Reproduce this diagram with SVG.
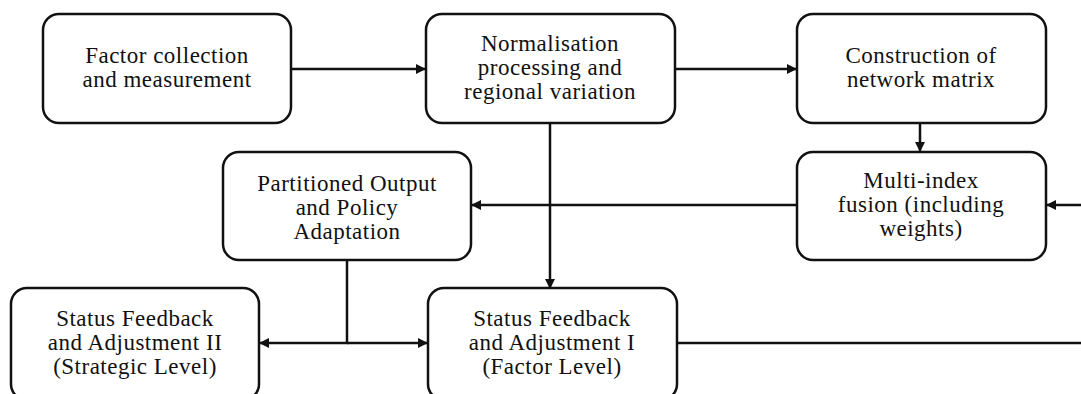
<svg xmlns="http://www.w3.org/2000/svg" width="1081" height="394" viewBox="0 0 1081 394">
<style>
.box{fill:#fff;stroke:#111;stroke-width:2.5}
.t{font-family:"Liberation Serif","Times New Roman",serif;font-size:23px;letter-spacing:0.5px;fill:#111;text-anchor:middle}
.c{fill:none;stroke:#111;stroke-width:2.5}
</style>
<defs>
<marker id="ah" viewBox="0 0 10 10" refX="10" refY="5" markerWidth="4.4" markerHeight="4" markerUnits="strokeWidth" orient="auto">
<path d="M0,0 L10,5 L0,10 z" fill="#111"/>
</marker>
</defs>
<rect width="1081" height="394" fill="#fff"/>
<g id="connectors">
<line class="c" x1="291" y1="69" x2="426" y2="69" marker-end="url(#ah)"/>
<line class="c" x1="675" y1="69" x2="797" y2="69" marker-end="url(#ah)"/>
<line class="c" x1="920" y1="123" x2="920" y2="152" marker-end="url(#ah)"/>
<line class="c" x1="1081" y1="205" x2="1046" y2="205" marker-end="url(#ah)"/>
<line class="c" x1="797" y1="205" x2="471" y2="205" marker-end="url(#ah)"/>
<line class="c" x1="550" y1="123" x2="550" y2="289" marker-end="url(#ah)"/>
<polyline class="c" points="347,260 347,343 259,343" marker-end="url(#ah)"/>
<line class="c" x1="347" y1="343" x2="428" y2="343" marker-end="url(#ah)"/>
<line class="c" x1="677" y1="343" x2="1081" y2="343"/>
</g>
<g id="n1">
<rect class="box" x="43" y="14" width="248" height="109" rx="16"/>
<text class="t" x="167" y="63">Factor collection</text>
<text class="t" x="167" y="87">and measurement</text>
</g>
<g id="n2">
<rect class="box" x="426" y="14" width="249" height="109" rx="16"/>
<text class="t" x="550" y="51">Normalisation</text>
<text class="t" x="550" y="75">processing and</text>
<text class="t" x="550" y="99">regional variation</text>
</g>
<g id="n3">
<rect class="box" x="797" y="14" width="249" height="109" rx="16"/>
<text class="t" x="921" y="63">Construction of</text>
<text class="t" x="921" y="87">network matrix</text>
</g>
<g id="n4">
<rect class="box" x="797" y="152" width="249" height="108" rx="16"/>
<text class="t" x="921" y="188">Multi-index</text>
<text class="t" x="921" y="212">fusion (including</text>
<text class="t" x="921" y="236">weights)</text>
</g>
<g id="n5">
<rect class="box" x="223" y="152" width="248" height="108" rx="16"/>
<text class="t" x="347" y="191">Partitioned Output</text>
<text class="t" x="347" y="215">and Policy</text>
<text class="t" x="347" y="239">Adaptation</text>
</g>
<g id="n6">
<rect class="box" x="11" y="288" width="248" height="112" rx="16"/>
<text class="t" x="135" y="326">Status Feedback</text>
<text class="t" x="135" y="350">and Adjustment II</text>
<text class="t" x="135" y="374">(Strategic Level)</text>
</g>
<g id="n7">
<rect class="box" x="428" y="288" width="249" height="112" rx="16"/>
<text class="t" x="552" y="326">Status Feedback</text>
<text class="t" x="552" y="350">and Adjustment I</text>
<text class="t" x="552" y="374">(Factor Level)</text>
</g>
</svg>
